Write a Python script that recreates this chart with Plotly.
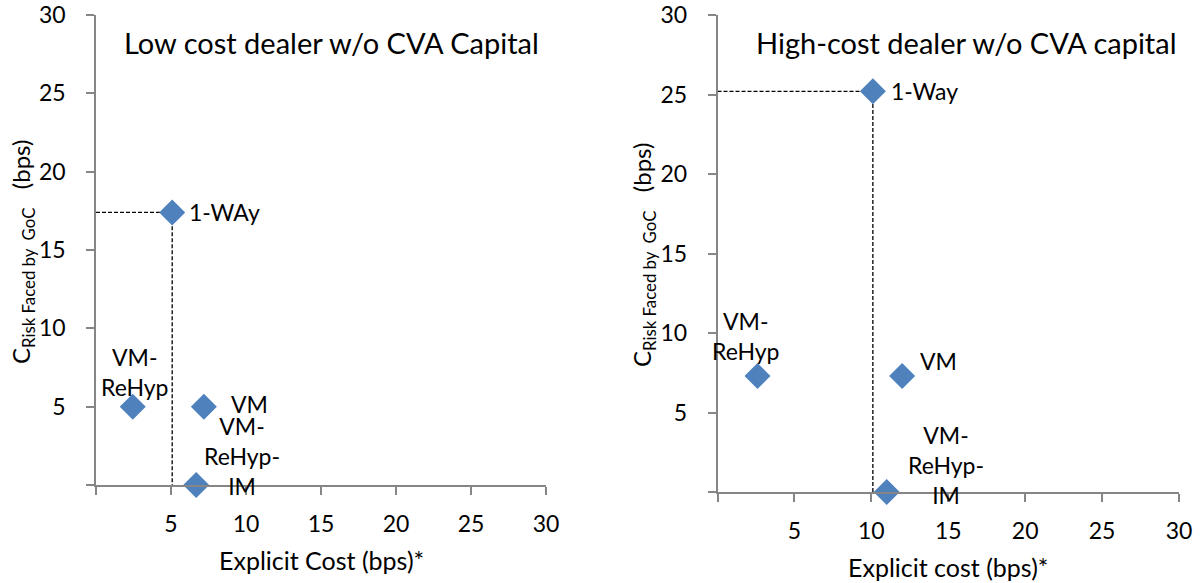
import plotly.graph_objects as go

# ---------------- data ----------------
low_labels = ["1-WAy", "VM-<br>ReHyp", "VM", "VM-<br>ReHyp-<br>IM"]
low_x = [5.08, 2.45, 7.19, 6.68]
low_y = [17.4, 5.0, 5.0, 0.0]

high_labels = ["1-Way", "VM-<br>ReHyp", "VM", "VM-<br>ReHyp-<br>IM"]
high_x = [10.1, 2.6, 12.0, 11.0]
high_y = [25.2, 7.3, 7.3, 0.0]

tick_vals = [0, 5, 10, 15, 20, 25, 30]
tick_text = ["", "5", "10", "15", "20", "25", "30"]

low_title = "Low cost dealer w/o CVA Capital"
high_title = "High-cost dealer w/o CVA capital"
low_xtitle = "Explicit Cost (bps)*"
high_xtitle = "Explicit cost (bps)*"
ytitle = "C<sub>Risk Faced by&nbsp;&nbsp;GoC</sub>&nbsp;&nbsp;&nbsp;(bps)"

# ---------------- styles ----------------
FONT = "Lato, 'Open Sans', sans-serif"
BLUE = "#4F81BD"
GRAY = "#868686"
# label placement (anchor, xshift, yshift) per point
low_pos = [("left", 15, 0), ("center", 2, 35), ("left", 25, 3), ("center", 46, 29)]
high_pos = [("left", 16, 0), ("center", -11, 40), ("left", 16, 15), ("center", 59, 27)]

W, H = 1204, 583
left_xdom = [96 / W, 546 / W]
left_ydom = [(H - 485) / H, (H - 15) / H]
right_xdom = [717.5 / W, 1179 / W]
right_ydom = [(H - 492) / H, (H - 15) / H]

fig = go.Figure()

panels = [
    ("x", "y", low_x, low_y, low_labels, low_pos),
    ("x2", "y2", high_x, high_y, high_labels, high_pos),
]

annotations = []
for xa, ya, xs, ys, labs, pos in panels:
    # dashed guide lines from the first (1-Way) point
    fig.add_trace(go.Scatter(
        x=[0, xs[0], xs[0]], y=[ys[0], ys[0], 0],
        mode="lines", line=dict(color="black", width=1.3, dash="4px,2px"),
        xaxis=xa, yaxis=ya, showlegend=False, hoverinfo="skip", cliponaxis=False))
    fig.add_trace(go.Scatter(
        x=xs, y=ys, mode="markers",
        marker=dict(symbol="diamond", size=20, color=BLUE),
        xaxis=xa, yaxis=ya, showlegend=False, cliponaxis=False))
    for xv, yv, t, (anc, dx, dy) in zip(xs, ys, labs, pos):
        annotations.append(dict(
            x=xv, y=yv, xref=xa, yref=ya, text=t, showarrow=False,
            xanchor=anc, yanchor="middle", xshift=dx, yshift=dy,
            font=dict(family=FONT, size=23, color="black")))

# titles
annotations += [
    dict(x=332 / W, y=(H - 42) / H, xref="paper", yref="paper", text=low_title,
         showarrow=False, xanchor="center", yanchor="middle",
         font=dict(family=FONT, size=29, color="black")),
    dict(x=966.5 / W, y=(H - 42) / H, xref="paper", yref="paper", text=high_title,
         showarrow=False, xanchor="center", yanchor="middle",
         font=dict(family=FONT, size=29, color="black")),
    dict(x=321 / W, y=(H - 560) / H, xref="paper", yref="paper", text=low_xtitle,
         showarrow=False, xanchor="center", yanchor="middle",
         font=dict(family=FONT, size=25, color="black")),
    dict(x=948 / W, y=(H - 567) / H, xref="paper", yref="paper", text=high_xtitle,
         showarrow=False, xanchor="center", yanchor="middle",
         font=dict(family=FONT, size=25, color="black")),
    dict(x=22 / W, y=(H - 252) / H, xref="paper", yref="paper", text=ytitle,
         showarrow=False, xanchor="center", yanchor="middle", textangle=-90,
         font=dict(family=FONT, size=24, color="black")),
    dict(x=644 / W, y=(H - 255) / H, xref="paper", yref="paper", text=ytitle,
         showarrow=False, xanchor="center", yanchor="middle", textangle=-90,
         font=dict(family=FONT, size=24, color="black")),
]

def xax(dom, anchor):
    return dict(domain=dom, anchor=anchor, range=[0, 30], tickmode="array",
                tickvals=tick_vals, ticktext=tick_text, ticks="outside", ticklen=8,
                tickwidth=1.5, tickcolor=GRAY, showline=True, linecolor=GRAY,
                linewidth=1.5, showgrid=False, zeroline=False, automargin=False,
                ticklabelstandoff=10,
                tickfont=dict(family=FONT, size=23, color="black"))

def xax_inside(dom, anchor, over):
    return dict(domain=dom, anchor=anchor, overlaying=over, range=[0, 30],
                tickmode="array", tickvals=tick_vals, showticklabels=False,
                ticks="inside", ticklen=8, tickwidth=1.5, tickcolor=GRAY,
                showline=False, showgrid=False, zeroline=False, side="bottom",
                automargin=False)

def yax(dom, anchor):
    return dict(domain=dom, anchor=anchor, range=[0, 30], tickmode="array",
                tickvals=tick_vals, ticktext=tick_text, ticks="outside", ticklen=8,
                tickwidth=1.5, tickcolor=GRAY, showline=True, linecolor=GRAY,
                linewidth=1.5, showgrid=False, zeroline=False, automargin=False,
                ticklabelstandoff=16,
                tickfont=dict(family=FONT, size=23, color="black"))

fig.update_layout(
    width=W, height=H, autosize=False,
    margin=dict(l=0, r=0, t=0, b=0, pad=0, autoexpand=False),
    paper_bgcolor="white", plot_bgcolor="white",
    font=dict(family=FONT, color="black"),
    xaxis=xax(left_xdom, "y"),
    yaxis=yax(left_ydom, "x"),
    xaxis2=xax(right_xdom, "y2"),
    yaxis2=yax(right_ydom, "x2"),
    xaxis3=xax_inside(left_xdom, "y", "x"),
    xaxis4=xax_inside(right_xdom, "y2", "x2"),
    annotations=annotations,
    showlegend=False,
)

fig.write_html(
    "out.html",
    config={"responsive": False, "displayModeBar": False},
    post_script="document.body.style.margin='0';document.body.style.padding='0';"
                "document.body.style.overflow='hidden';",
)
